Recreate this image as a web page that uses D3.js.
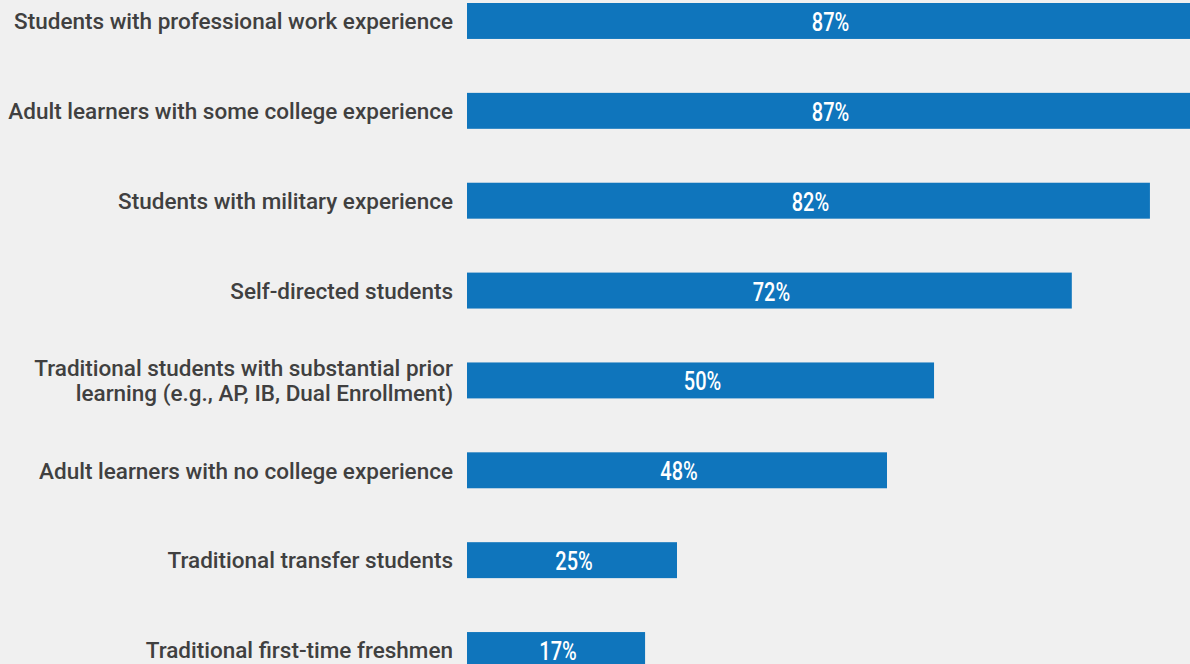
<!DOCTYPE html>
<html lang="en">
<head>
    <meta charset="UTF-8">
    <title>bars</title>
    <style>
        html, body { margin: 0; padding: 0; background: #f0f0f0; overflow: hidden; }
        .cat { font-family: Roboto, "Noto Sans", sans-serif; font-weight: 500; font-size: 22.5px; fill: #404040; }
        .val { font-family: Roboto, sans-serif; font-weight: 500; font-size: 25px; fill: #fff; }
    </style>
</head>
<body>
    <div id="chart"></div>
    <script src="https://cdn.jsdelivr.net/npm/d3@7"></script>
    <script>

        var categories = [
            ["Students with professional work experience"],
            ["Adult learners with some college experience"],
            ["Students with military experience"],
            ["Self-directed students"],
            ["Traditional students with substantial prior", "learning (e.g., AP, IB, Dual Enrollment)"],
            ["Adult learners with no college experience"],
            ["Traditional transfer students"],
            ["Traditional first-time freshmen"]
        ];
        // printed labels
        var values = [87, 87, 82, 72, 50, 48, 25, 17];
        // bar lengths as drawn in the picture (they don't quite follow the labels)
        var barValues = [87, 87, 81.3, 72, 55.6, 50, 25, 21.2];

        var width = 1190, height = 664;

        var svg = d3.select("#chart").append("svg")
            .attr("width", width)
            .attr("height", height);

        var x = d3.scaleLinear().domain([0, 100]).range([467, 1307]);

        var y = d3.scaleBand()
            .domain(d3.range(categories.length))
            .range([3, 668])
            .paddingInner(0.6)
            .paddingOuter(0);

        var rows = svg.selectAll("g.row")
            .data(categories)
            .enter().append("g")
            .attr("class", "row")
            .attr("transform", (d, i) => "translate(0," + y(i) + ")");

        rows.append("rect")
            .attr("x", x(0))
            .attr("y", 0)
            .attr("width", (d, i) => x(barValues[i]) - x(0))
            .attr("height", y.bandwidth())
            .attr("fill", "#0f75bc");

        // condensed look: squeeze the value labels horizontally
        rows.append("g")
            .attr("transform", (d, i) => "translate(" + ((x(0) + Math.min(x(barValues[i]), width)) / 2 + 2) + "," + (y.bandwidth() / 2 + 1) + ") scale(0.8,1)")
            .append("text")
            .attr("class", "val")
            .attr("dy", "0.36em")
            .attr("text-anchor", "middle")
            .text((d, i) => values[i] + "%");

        var label = rows.append("text")
            .attr("class", "cat")
            .attr("text-anchor", "end")
            .attr("y", y.bandwidth() / 2);

        label.selectAll("tspan")
            .data(d => d.map(t => ({ t: t, n: d.length })))
            .enter().append("tspan")
            .attr("x", 453)
            .attr("dy", (d, j) => j == 0 ? (0.37 - (d.n - 1) * 0.55) + "em" : "1.1em")
            .text(d => d.t);
    </script>
</body>
</html>
